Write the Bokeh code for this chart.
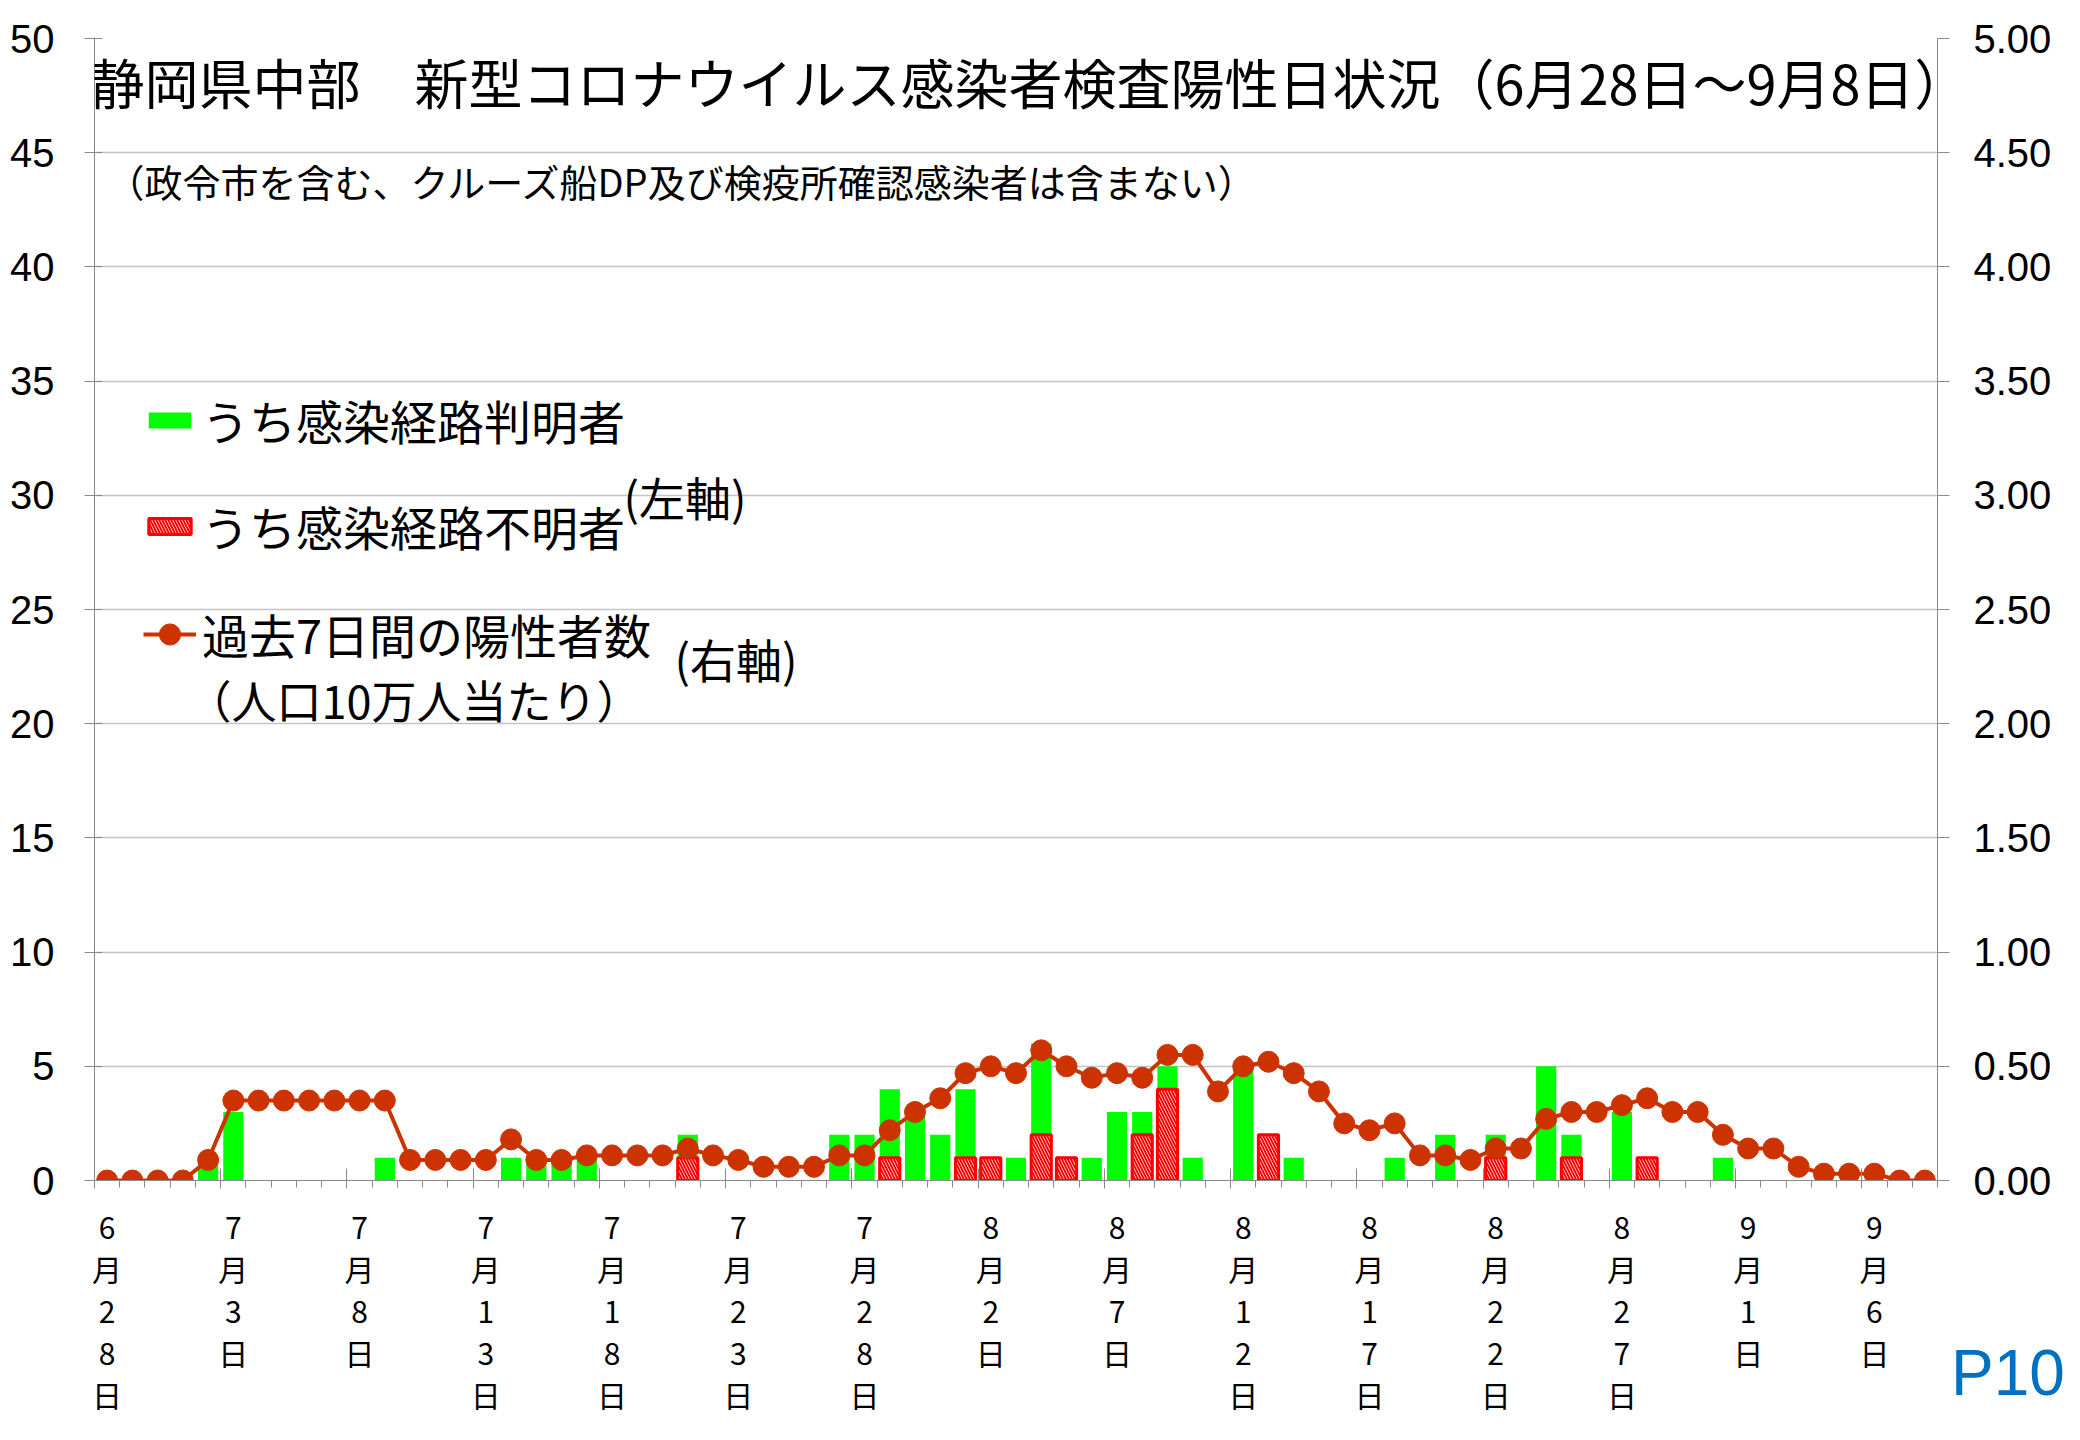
import pandas as pd
from bokeh.plotting import figure
from bokeh.layouts import column
from bokeh.models import (Range1d, LinearAxis, FixedTicker, Label, Legend, LegendItem, Div,
                          ColumnDataSource, PrintfTickFormatter, CDSView, BooleanFilter, Grid)
from bokeh.transform import stack
from bokeh.embed import file_html
from bokeh.resources import INLINE

# ---------------- data ----------------
dates = [d.strftime("%m/%d") for d in pd.date_range("2020-06-28", "2020-09-08")]  # 73 days

known = [0, 0, 0, 0, 1, 3, 0, 0, 0, 0, 0, 1, 0, 0, 0, 0, 1, 1, 1, 1,
         0, 0, 0, 1, 0, 0, 0, 0, 0, 2, 2, 3, 3, 2, 3, 0, 1, 4, 0, 1,
         3, 1, 1, 1, 0, 5, 0, 1, 0, 0, 0, 1, 0, 2, 0, 1, 0, 5, 1, 0,
         3, 0, 0, 0, 1, 0, 0, 0, 0, 0, 0, 0, 0]

unknown = [0, 0, 0, 0, 0, 0, 0, 0, 0, 0, 0, 0, 0, 0, 0, 0, 0, 0, 0, 0,
           0, 0, 0, 1, 0, 0, 0, 0, 0, 0, 0, 1, 0, 0, 1, 1, 0, 2, 1, 0,
           0, 2, 4, 0, 0, 0, 2, 0, 0, 0, 0, 0, 0, 0, 0, 1, 0, 0, 1, 0,
           0, 1, 0, 0, 0, 0, 0, 0, 0, 0, 0, 0, 0]

rate7 = [0, 0, 0, 0, 0.09, 0.35, 0.35, 0.35, 0.35, 0.35, 0.35, 0.35,
         0.09, 0.09, 0.09, 0.09, 0.18, 0.09, 0.09, 0.11, 0.11, 0.11, 0.11,
         0.14, 0.11, 0.09, 0.06, 0.06, 0.06, 0.11, 0.11,
         0.22, 0.30, 0.36, 0.47, 0.50, 0.47, 0.57, 0.50, 0.45, 0.47, 0.45,
         0.55, 0.55, 0.39, 0.50, 0.52, 0.47, 0.39, 0.25, 0.22, 0.25,
         0.11, 0.11, 0.09, 0.14, 0.14, 0.27, 0.30, 0.30, 0.33, 0.36, 0.30,
         0.30, 0.20, 0.14, 0.14, 0.06, 0.03, 0.03, 0.03, 0, 0]

label_days = [0, 5, 10, 15, 20, 25, 30, 35, 40, 45, 50, 55, 60, 65, 70]
tick_labels = ["6\n月\n2\n8\n日", "7\n月\n3\n日", "7\n月\n8\n日", "7\n月\n1\n3\n日",
               "7\n月\n1\n8\n日", "7\n月\n2\n3\n日", "7\n月\n2\n8\n日", "8\n月\n2\n日",
               "8\n月\n7\n日", "8\n月\n1\n2\n日", "8\n月\n1\n7\n日", "8\n月\n2\n2\n日",
               "8\n月\n2\n7\n日", "9\n月\n1\n日", "9\n月\n6\n日"]

left_ticks = [0, 5, 10, 15, 20, 25, 30, 35, 40, 45, 50]
right_ticks = [0, 0.5, 1.0, 1.5, 2.0, 2.5, 3.0, 3.5, 4.0, 4.5, 5.0]

title_text = "静岡県中部　新型コロナウイルス感染者検査陽性日状況（6月28日～9月8日）"
subtitle_text = "（政令市を含む、クルーズ船DP及び検疫所確認感染者は含まない）"

# ---------------- figure ----------------
JP = "Noto Sans CJK JP"
NUM = "Liberation Sans"
GRAY = "#8a8a8a"
FH = 1142

src = ColumnDataSource(dict(day=list(range(len(dates))), date=dates,
                            known=known, unknown=unknown, rate=rate7))

p = figure(frame_width=1843, frame_height=FH,
           x_range=Range1d(-0.5, len(dates) - 0.5), y_range=Range1d(0, 50),
           output_backend="svg", toolbar_location=None,
           x_axis_location=None, y_axis_location=None,
           min_border_left=94, min_border_right=135, min_border_top=38, min_border_bottom=240,
           background_fill_color="white", border_fill_color="white")
p.outline_line_color = None
p.extra_y_ranges = {"right": Range1d(0, 5)}

# remove default grids, add horizontal grid only
p.center = [r for r in p.center if not isinstance(r, Grid)]
p.add_layout(Grid(dimension=1, ticker=FixedTicker(ticks=left_ticks[1:]),
                  grid_line_color="#c4c4c4", grid_line_width=1.5))

# left axis
yl = LinearAxis(ticker=FixedTicker(ticks=left_ticks, minor_ticks=[]))
yl.axis_line_color = GRAY
yl.major_tick_line_color = GRAY
yl.major_tick_out = 10
yl.major_tick_in = 8
yl.major_label_text_font = NUM
yl.major_label_text_font_size = "40px"
yl.major_label_text_color = "black"
yl.major_label_standoff = 30
p.add_layout(yl, "left")

# right axis
yr = LinearAxis(y_range_name="right", ticker=FixedTicker(ticks=right_ticks, minor_ticks=[]),
                formatter=PrintfTickFormatter(format="%.2f"))
yr.axis_line_color = GRAY
yr.major_tick_line_color = GRAY
yr.major_tick_out = 12
yr.major_tick_in = 0
yr.major_label_text_font = NUM
yr.major_label_text_font_size = "40px"
yr.major_label_text_color = "black"
yr.major_label_standoff = 24
p.add_layout(yr, "right")

# bottom tick axis (ticks between categories), labels not drawn
xt = LinearAxis(ticker=FixedTicker(ticks=[d - 0.5 for d in label_days],
                                   minor_ticks=[d - 0.5 for d in range(len(dates) + 1)]))
xt.axis_line_color = GRAY
xt.major_tick_line_color = GRAY
xt.minor_tick_line_color = GRAY
xt.major_tick_out = 8
xt.major_tick_in = 12
xt.minor_tick_out = 7
xt.minor_tick_in = 0
xt.major_label_text_color = None
xt.major_label_text_font_size = "2px"
xt.major_label_standoff = 0
p.add_layout(xt, "below")

# bottom label axis
xl = LinearAxis(ticker=FixedTicker(ticks=label_days, minor_ticks=[]),
                major_label_overrides={d: s for d, s in zip(label_days, tick_labels)})
xl.axis_line_color = None
xl.major_tick_line_color = None
xl.major_tick_out = 0
xl.major_tick_in = 0
xl.major_label_text_font = JP
xl.major_label_text_font_size = "30px"
xl.major_label_text_line_height = 0.96
xl.major_label_text_color = "black"
xl.major_label_standoff = 15
p.add_layout(xl, "below")

# bars (stacked: unknown at bottom, known on top)
green_bars = p.vbar(x="day", width=0.8, bottom=stack("unknown"), top=stack("unknown", "known"),
                    source=src, fill_color="#00ff00", line_color=None)
red_view = CDSView(filter=BooleanFilter([u > 0 for u in unknown]))
red_bars = p.vbar(x="day", width=0.8, bottom=stack(), top=stack("unknown"), source=src, view=red_view,
                  fill_color="white", line_color="#ff0000", line_width=3,
                  hatch_pattern="\\", hatch_color="#ff0000", hatch_weight=2, hatch_scale=6)

# line (right axis)
line_r = p.line(x="day", y="rate", source=src, y_range_name="right",
                line_color="#cc3300", line_width=4)
dots_r = p.scatter(x="day", y="rate", source=src, y_range_name="right", marker="circle",
                   size=21, fill_color="#cc3300", line_color="#cc3300")

# title texts
p.add_layout(Label(x=-4, y=FH - 43, x_units="screen", y_units="screen", text=title_text,
                   text_font=JP, text_font_size="54px", text_baseline="middle", text_color="black"))
p.add_layout(Label(x=12, y=FH - 142, x_units="screen", y_units="screen", text=subtitle_text,
                   text_font=JP, text_font_size="38px", text_baseline="middle", text_color="black"))

# legends
def mk_legend(label, renderers, yc, gh=20):
    lg = Legend(items=[LegendItem(label=label, renderers=renderers)], location=(49, yc - 30),
                label_text_font=JP, label_text_font_size="47px", label_text_color="black",
                glyph_width=53, glyph_height=gh, label_standoff=6, label_height=60,
                padding=0, margin=0, spacing=0, border_line_color=None,
                background_fill_alpha=0)
    p.add_layout(lg)

mk_legend("うち感染経路判明者", [green_bars], 756)
mk_legend("うち感染経路不明者", [red_bars], 650)
mk_legend("過去7日間の陽性者数", [line_r, dots_r], 542, gh=60)

p.add_layout(Label(x=529, y=685, x_units="screen", y_units="screen", text="(左軸)",
                   text_font=JP, text_font_size="46px", text_baseline="middle", text_color="black"))
p.add_layout(Label(x=580, y=523, x_units="screen", y_units="screen", text="(右軸)",
                   text_font=JP, text_font_size="46px", text_baseline="middle", text_color="black"))
p.add_layout(Label(x=92, y=481, x_units="screen", y_units="screen", text="（人口10万人当たり）",
                   text_font=JP, text_font_size="45px", text_baseline="middle", text_color="black"))

# page marker (bottom-right corner, outside the plot frame)
page_mark = Div(text="P10", styles={"position": "absolute", "left": "1946px", "top": "1336px",
                                    "color": "#0070c0", "font-family": "Liberation Sans",
                                    "font-size": "64px", "line-height": "1", "z-index": "10"})

layout = column(p, page_mark)
open("out.html", "w").write(file_html(layout, INLINE))
